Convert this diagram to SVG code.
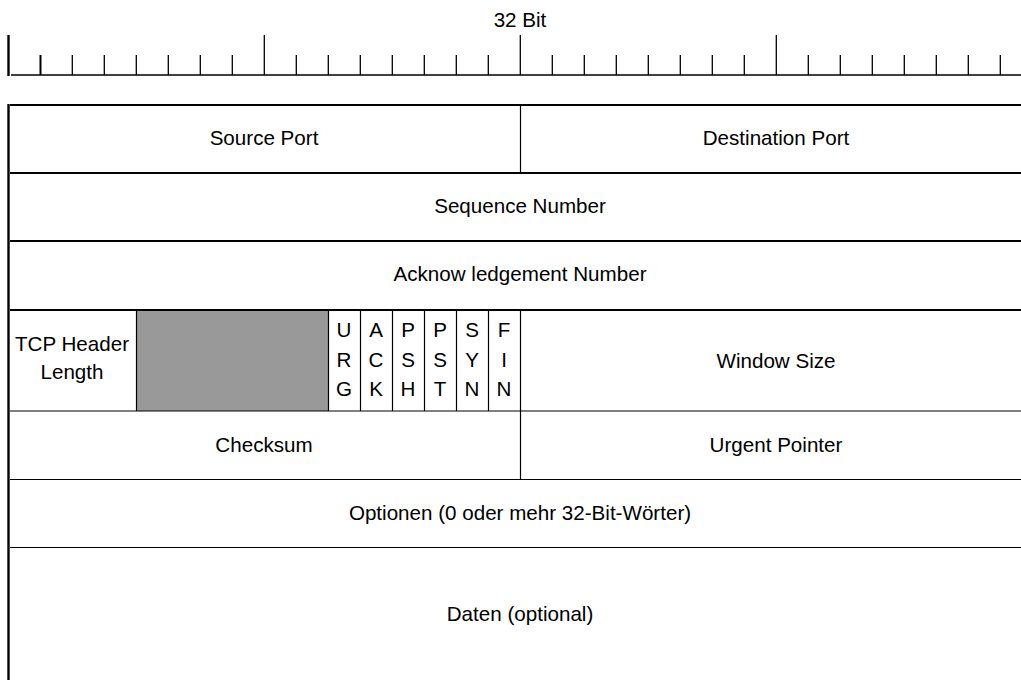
<svg xmlns="http://www.w3.org/2000/svg" width="1021" height="680" viewBox="0 0 1021 680">
  <style>
    text { font-family: "Liberation Sans", Arial, sans-serif; font-size: 20.6px; fill: #000; text-anchor: middle; }
    .tick { stroke: #000; stroke-width: 1.3; }
    .thick { stroke: #000; stroke-width: 2.2; }
    .thin { stroke: #000; stroke-width: 1.2; }
  </style>
  <rect width="1021" height="680" fill="#fff"/>

  <!-- bit ruler -->
  <g id="ruler">
    <text x="520" y="27">32 Bit</text>
    <line class="tick" x1="11" y1="75" x2="1021" y2="75"/>
    <line x1="8.5" y1="35" x2="8.5" y2="76" stroke="#000" stroke-width="2.4"/>
    <line x1="40.5" y1="55" x2="40.5" y2="75" stroke="#000" stroke-width="2"/>
    <g class="tick">
      <line x1="72.3" y1="55" x2="72.3" y2="75"/>
      <line x1="104.3" y1="55" x2="104.3" y2="75"/>
      <line x1="136.3" y1="55" x2="136.3" y2="75"/>
      <line x1="168.3" y1="55" x2="168.3" y2="75"/>
      <line x1="200.3" y1="55" x2="200.3" y2="75"/>
      <line x1="232.3" y1="55" x2="232.3" y2="75"/>
      <line x1="264.3" y1="35" x2="264.3" y2="75"/>
      <line x1="296.3" y1="55" x2="296.3" y2="75"/>
      <line x1="328.3" y1="55" x2="328.3" y2="75"/>
      <line x1="360.3" y1="55" x2="360.3" y2="75"/>
      <line x1="392.3" y1="55" x2="392.3" y2="75"/>
      <line x1="424.3" y1="55" x2="424.3" y2="75"/>
      <line x1="456.3" y1="55" x2="456.3" y2="75"/>
      <line x1="488.3" y1="55" x2="488.3" y2="75"/>
      <line x1="520.3" y1="35" x2="520.3" y2="75"/>
      <line x1="552.3" y1="55" x2="552.3" y2="75"/>
      <line x1="584.3" y1="55" x2="584.3" y2="75"/>
      <line x1="616.3" y1="55" x2="616.3" y2="75"/>
      <line x1="648.3" y1="55" x2="648.3" y2="75"/>
      <line x1="680.3" y1="55" x2="680.3" y2="75"/>
      <line x1="712.3" y1="55" x2="712.3" y2="75"/>
      <line x1="744.3" y1="55" x2="744.3" y2="75"/>
      <line x1="776.3" y1="35" x2="776.3" y2="75"/>
      <line x1="808.3" y1="55" x2="808.3" y2="75"/>
      <line x1="840.3" y1="55" x2="840.3" y2="75"/>
      <line x1="872.3" y1="55" x2="872.3" y2="75"/>
      <line x1="904.3" y1="55" x2="904.3" y2="75"/>
      <line x1="936.3" y1="55" x2="936.3" y2="75"/>
      <line x1="968.3" y1="55" x2="968.3" y2="75"/>
      <line x1="1000.3" y1="55" x2="1000.3" y2="75"/>
    </g>
  </g>

  <!-- header grid lines -->
  <g id="grid">
    <rect x="137" y="311" width="191" height="100" fill="#999999"/>
    <line x1="8.5" y1="104" x2="8.5" y2="680" stroke="#000" stroke-width="2.4"/>
    <line class="thick" x1="10" y1="105" x2="1021" y2="105"/>
    <line class="thick" x1="10" y1="173" x2="1021" y2="173"/>
    <line class="thick" x1="10" y1="241" x2="1021" y2="241"/>
    <line class="thick" x1="10" y1="310" x2="1021" y2="310"/>
    <line class="thin" x1="10" y1="411" x2="1021" y2="411"/>
    <line class="thin" x1="10" y1="479.5" x2="1021" y2="479.5"/>
    <line class="thin" x1="10" y1="547.5" x2="1021" y2="547.5"/>
    <line class="thin" x1="520.5" y1="106" x2="520.5" y2="173"/>
    <line class="thin" x1="520.5" y1="311" x2="520.5" y2="479"/>
    <line class="thin" x1="136.5" y1="311" x2="136.5" y2="411"/>
    <line class="thin" x1="328.5" y1="311" x2="328.5" y2="411"/>
    <line class="thin" x1="360.5" y1="311" x2="360.5" y2="411"/>
    <line class="thin" x1="392.5" y1="311" x2="392.5" y2="411"/>
    <line class="thin" x1="424.5" y1="311" x2="424.5" y2="411"/>
    <line class="thin" x1="456.5" y1="311" x2="456.5" y2="411"/>
    <line class="thin" x1="488.5" y1="311" x2="488.5" y2="411"/>
  </g>

  <!-- fields -->
  <g id="source-port"><text x="264" y="145">Source Port</text></g>
  <g id="destination-port"><text x="776" y="145">Destination Port</text></g>
  <g id="sequence-number"><text x="520" y="213">Sequence Number</text></g>
  <g id="ack-number"><text x="520" y="281">Acknow ledgement Number</text></g>
  <g id="header-length">
    <text x="72" y="351">TCP Header</text>
    <text x="72" y="379">Length</text>
  </g>
  <g id="flag-urg"><text x="344" y="337">U</text><text x="344" y="367">R</text><text x="344" y="396">G</text></g>
  <g id="flag-ack"><text x="376" y="337">A</text><text x="376" y="367">C</text><text x="376" y="396">K</text></g>
  <g id="flag-psh"><text x="408" y="337">P</text><text x="408" y="367">S</text><text x="408" y="396">H</text></g>
  <g id="flag-rst"><text x="440" y="337">P</text><text x="440" y="367">S</text><text x="440" y="396">T</text></g>
  <g id="flag-syn"><text x="472" y="337">S</text><text x="472" y="367">Y</text><text x="472" y="396">N</text></g>
  <g id="flag-fin"><text x="504" y="337">F</text><text x="504" y="367">I</text><text x="504" y="396">N</text></g>
  <g id="window-size"><text x="776" y="368">Window Size</text></g>
  <g id="checksum"><text x="264" y="452">Checksum</text></g>
  <g id="urgent-pointer"><text x="776" y="452">Urgent Pointer</text></g>
  <g id="options"><text x="520" y="520">Optionen (0 oder mehr 32-Bit-Wörter)</text></g>
  <g id="data"><text x="520" y="621">Daten (optional)</text></g>
</svg>
